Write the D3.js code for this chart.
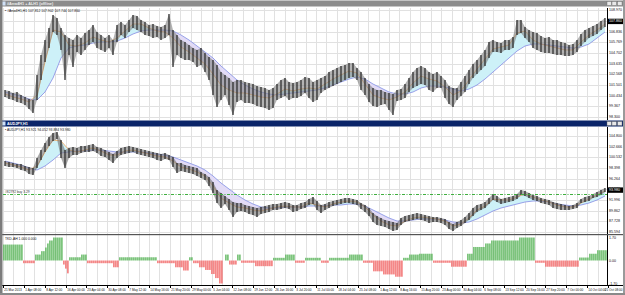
<!DOCTYPE html>
<html>
<head>
<meta charset="utf-8">
<script src="https://cdn.jsdelivr.net/npm/d3@7"></script>
<style>
body { margin: 0; background: #fff; }
svg { display: block; font-family: "Liberation Sans", Arial, sans-serif; }
</style>
</head>
<body>
<div class="chart-container"></div>
<script>
const width = 625;
const height = 295;

// time scale labels (one every ~20.9px)
const dateLabels = ["21 Mar 2013","1 Apr 08:00","8 Apr 12:00","16 Apr 00:00","23 Apr 04:00","30 Apr 08:00",
  "7 May 12:00","14 May 16:00","21 May 20:00","29 May 00:00","5 Jun 04:00","12 Jun 08:00","19 Jun 12:00",
  "26 Jun 16:00","3 Jul 20:00","11 Jul 00:00","18 Jul 04:00","25 Jul 08:00","1 Aug 12:00","8 Aug 16:00",
  "15 Aug 20:00","23 Aug 00:00","30 Aug 04:00","6 Sep 08:00","13 Sep 12:00","20 Sep 16:00","27 Sep 20:00",
  "7 Oct 00:00","14 Oct 04:00","21 Oct 08:00"];

// top window (#Anw4H1)
const topTicks = [108.970,107.903,106.836,105.769,104.702,103.635,102.568,101.501,100.434,99.367,98.300];
const topHigh = [101.0,100.9,100.7,100.8,100.5,100.3,100.1,100.0,102.5,104.5,
  106.0,107.2,108.5,108.2,107.2,106.5,106.2,106.0,106.5,106.2,
  106.7,107.0,107.5,106.8,106.5,106.2,106.5,106.0,107.5,107.8,
  107.5,108.0,108.5,108.4,108.0,107.8,107.5,107.6,107.4,107.3,
  107.5,108.6,107.0,106.5,106.0,105.8,105.5,105.2,105.0,105.2,
  104.7,104.3,104.0,103.5,102.8,102.5,102.2,101.8,102.0,102.0,
  101.8,101.7,101.6,101.4,101.3,101.2,101.0,101.2,101.6,102.0,
  102.2,101.8,101.7,101.8,102.0,102.3,102.2,101.8,102.0,102.2,
  102.4,102.8,103.0,103.2,103.4,103.5,103.7,103.7,103.2,102.8,
  102.2,101.6,101.2,101.0,101.0,100.8,100.7,100.6,101.0,101.1,
  101.6,102.2,102.8,103.2,103.4,103.2,102.8,102.6,102.8,102.4,
  102.0,101.4,101.2,101.2,101.8,102.4,103.0,103.6,104.0,104.5,
  105.0,105.8,106.0,105.8,105.7,106.0,106.0,106.3,108.0,108.0,
  107.3,107.0,106.8,106.7,106.4,106.2,106.3,106.0,106.0,105.8,
  105.7,105.5,105.6,106.0,106.6,107.0,107.2,107.4,107.6,107.9,
  108.2];
const topLow = [100.3,100.1,100.0,99.8,99.7,99.5,99.1,98.7,100.0,102.0,
  103.8,105.2,106.8,106.5,105.0,102.0,104.5,103.3,104.8,104.5,
  105.0,105.5,105.8,105.2,105.0,104.8,105.2,104.5,105.8,106.5,
  106.2,106.8,107.2,107.0,106.8,106.5,106.4,106.2,106.3,106.0,
  106.2,106.5,103.3,104.5,104.2,104.0,104.0,103.8,103.3,103.5,
  102.8,102.0,100.5,99.3,100.0,100.5,99.5,98.5,99.8,100.0,
  99.7,99.7,99.6,99.4,99.3,99.2,99.0,99.2,100.0,100.2,
  100.4,100.0,100.2,100.2,100.4,100.7,100.2,99.8,100.0,100.7,
  101.0,101.2,101.4,101.6,101.8,102.0,102.2,102.3,102.0,101.0,
  100.5,99.8,99.4,99.3,99.5,99.6,99.0,98.5,99.9,100.0,
  100.2,100.8,101.2,101.4,101.6,101.5,101.0,100.8,101.2,101.2,
  100.2,99.6,99.3,100.0,100.4,100.8,101.6,102.2,102.6,103.0,
  103.4,104.2,104.8,104.8,104.7,105.0,105.0,105.2,106.5,106.7,
  106.2,105.8,105.2,105.0,104.8,104.7,104.7,104.6,104.5,104.5,
  104.4,104.4,104.5,104.8,105.4,105.8,106.2,106.4,106.6,107.0,
  107.3];
const topFast = [100.6,100.3,100.1,99.8,100.5,103.8,107.0,106.8,105.5,105.4,
  105.7,106.3,106.0,105.8,106.2,106.9,107.6,107.6,107.2,106.9,
  106.8,106.2,105.3,104.8,104.2,103.6,102.6,101.5,101.0,100.7,
  100.7,100.5,100.3,100.2,100.6,101.1,100.9,101.1,101.2,101.1,
  101.6,102.1,102.5,102.9,102.7,101.6,100.5,100.2,100.0,100.3,
  100.8,101.7,102.4,102.1,101.9,101.3,100.5,100.9,102.0,103.1,
  104.1,105.1,105.3,105.5,106.7,106.9,106.0,105.6,105.4,105.2,
  105.0,105.0,105.8,106.5,107.0,107.6];
const topSlow = [100.8,100.6,100.4,100.1,100.0,100.8,102.2,104.2,105.2,105.4,
  105.5,105.7,105.8,105.8,105.9,106.2,106.6,106.9,107.0,107.0,
  107.0,106.9,106.5,106.0,105.4,104.8,104.2,103.4,102.7,102.0,
  101.5,101.1,100.8,100.6,100.5,100.6,100.7,100.8,100.9,101.0,
  101.2,101.5,101.8,102.1,102.3,102.1,101.6,101.2,100.8,100.6,
  100.6,100.8,101.2,101.4,101.4,101.3,101.1,100.9,101.1,101.5,
  102.1,102.8,103.5,104.2,104.9,105.4,105.6,105.6,105.5,105.4,
  105.3,105.2,105.3,105.6,106.2,106.8];

// AUDJPY,H1 window
const midTicks = [104.800,102.666,100.532,98.398,96.264,94.130,91.996,89.862,87.728,85.594];
const midHigh = [99.8,99.6,99.4,99.2,99.2,98.8,98.6,98.4,100.4,102.0,
  103.4,104.6,105.4,105.6,104.0,102.0,102.4,102.6,102.4,102.8,
  102.8,103.0,103.2,102.6,102.4,102.0,101.6,101.2,101.8,102.4,
  102.6,102.8,102.6,102.4,102.2,102.0,101.8,101.6,101.4,101.2,
  101.4,101.0,100.6,99.4,99.4,99.0,98.8,98.6,98.4,97.6,
  97.2,96.6,95.6,94.0,93.4,92.8,92.2,91.6,91.4,91.4,
  91.0,90.8,90.6,90.4,90.6,90.8,91.0,91.2,91.2,91.4,
  91.6,91.4,91.0,91.0,91.4,91.6,92.2,92.6,91.8,91.0,
  91.2,91.6,91.8,92.0,92.2,92.4,92.4,92.2,92.0,91.4,
  91.0,90.4,89.4,88.8,88.4,88.0,87.8,87.6,87.4,88.4,
  88.8,89.0,89.2,89.4,89.2,89.0,88.8,88.6,88.6,88.4,
  88.2,87.6,87.2,87.6,88.0,88.6,89.4,90.4,91.0,91.2,
  91.6,92.4,93.2,92.8,92.2,92.4,92.6,92.8,93.2,94.0,
  93.8,93.4,93.0,92.8,92.4,92.2,92.0,91.6,91.4,91.2,
  91.0,90.8,91.0,91.4,92.2,92.6,92.8,93.2,93.6,94.0,
  94.4];
const midLow = [98.8,98.6,98.6,98.4,98.0,97.8,97.2,97.0,98.4,100.0,
  101.6,102.8,103.8,104.2,100.4,98.4,100.4,101.0,101.0,101.4,
  101.6,101.6,101.8,101.4,100.8,100.6,100.0,99.4,100.4,101.0,
  101.2,101.4,101.6,101.2,101.0,100.8,100.6,100.4,100.0,99.8,
  100.2,100.0,98.6,97.4,97.8,97.6,97.4,97.2,96.8,96.4,
  96.0,94.8,93.4,91.4,90.4,91.2,90.0,88.6,89.6,89.8,
  89.6,89.2,89.0,88.6,89.2,89.4,89.6,90.0,90.0,90.2,
  90.4,90.2,89.6,89.8,90.2,90.4,91.0,91.2,90.0,89.4,
  90.0,90.4,90.8,91.0,91.2,91.4,91.4,91.2,91.0,90.2,
  89.6,88.8,87.6,87.0,86.8,86.6,86.2,85.8,86.0,87.0,
  87.6,87.8,88.0,88.2,88.0,87.8,87.4,87.6,87.6,87.4,
  87.0,86.2,85.8,86.4,86.8,87.4,88.0,88.8,89.6,90.0,
  90.4,91.2,92.0,91.6,91.2,91.4,91.6,91.8,92.2,93.0,
  92.8,92.4,92.0,91.8,91.4,91.2,91.0,90.4,90.2,90.0,
  90.0,90.0,90.2,90.4,91.4,91.6,91.8,92.4,92.6,93.0,
  93.6];
const midFast = [99.4,99.0,98.6,98.0,98.8,101.6,104.0,103.8,102.0,101.6,
  102.0,102.4,101.8,101.0,101.0,101.8,102.0,101.6,101.2,100.8,
  100.6,99.8,98.6,98.2,97.6,96.8,94.8,92.4,91.4,90.6,
  90.4,90.0,89.8,90.2,90.6,90.8,90.6,90.6,91.4,91.0,
  90.6,91.2,91.6,91.8,91.6,90.6,89.0,87.8,87.0,86.8,
  87.8,88.4,88.6,88.4,88.2,87.8,86.8,87.2,88.4,90.0,
  90.8,92.2,92.0,92.0,92.6,93.2,92.6,92.0,91.6,91.0,
  90.6,90.6,91.4,92.2,93.0,93.8];
const midSlow = [99.8,99.4,99.0,98.4,98.0,98.8,100.0,101.4,101.6,101.8,
  101.8,102.0,102.0,101.8,101.6,101.6,101.6,101.6,101.4,101.2,
  101.0,100.6,100.0,99.4,98.8,98.0,96.8,95.4,94.2,93.0,
  92.0,91.2,90.6,90.4,90.4,90.6,90.6,90.6,90.8,90.8,
  90.8,91.0,91.0,91.2,91.2,90.8,90.0,89.2,88.4,87.8,
  87.8,88.0,88.2,88.2,88.2,88.0,87.6,87.4,87.6,88.2,
  89.0,89.8,90.4,90.8,91.2,91.6,91.8,91.8,91.6,91.2,
  91.0,90.8,91.0,91.4,92.0,92.8];
const orderPrice = 93.3;

// TKD-AH histogram, runs of equal value (in bar units)
const histFrom = [0,10,16,19,21,22,23,25,30,31,32,33,39,42,55,58,77,86,90,93,95,98,101,104,106,108,
  111,113,117,119,126,135,141,146,151,159,163,173,180,185,190,196,200,203,208,215,224,232,235,241,244,258,
  266,271,288,293,297];
const histTo = [10,16,19,21,22,23,25,30,31,32,33,39,42,55,58,77,86,90,93,95,98,101,104,106,108,110,
  113,117,119,126,135,141,146,151,159,163,173,180,185,190,196,200,203,208,215,224,232,235,241,244,258,266,
  271,288,293,297,302];
const histVal = [1.18,-0.2,0.44,0.69,0.96,1.26,1.48,1.7,-0.3,-0.6,-0.95,0.24,0.44,-0.2,-0.5,0.24,-0.2,-0.5,-0.74,0.24,
  -0.2,-0.5,-0.7,-1.0,-1.3,-1.7,0.44,-0.3,0.44,-0.17,-0.42,0.2,0.44,-0.17,0.2,-0.17,0.2,0.44,-0.17,-0.8,
  -1.03,-1.2,0.2,0.44,0.5,-0.17,-0.46,0.5,1.0,1.26,1.48,1.7,-0.17,-0.46,0.22,0.5,0.76];
const histTicks = [1.7, 0, -1.7];

const plotLeft = 3;
const plotRight = 607;
const gridColor = "#e1e1e1";

const svg = d3.select('.chart-container').append('svg')
    .attr('width', width)
    .attr('height', height);

svg.append('rect').attr('width', width).attr('height', height).attr('fill', '#fff');
const defs = svg.append('defs');

const x = d3.scaleLinear().domain([0, 302]).range([plotLeft, plotRight]);
const labelX = d3.scaleLinear().domain([0, dateLabels.length - 1]).range([3, 608]);
const barX = i => x(2 * i + 1);
const maX = j => x(4 * j + 1);

function addClip(id, top, bottom) {
    defs.append('clipPath').attr('id', id)
        .append('rect')
        .attr('x', plotLeft).attr('y', top)
        .attr('width', plotRight - plotLeft).attr('height', bottom - top);
}

function drawGrid(top, bottom, ticks, y) {
    const g = svg.append('g');
    d3.range(0, 59).forEach(k => {
        const gx = Math.round(labelX(k / 2)) + 0.5;
        if (gx > plotRight) return;
        g.append('line').attr('x1', gx).attr('x2', gx).attr('y1', top).attr('y2', bottom)
            .attr('stroke', gridColor).attr('stroke-width', 1);
    });
    ticks.forEach(v => {
        const gy = Math.round(y(v)) + 0.5;
        g.append('line').attr('x1', plotLeft).attr('x2', plotRight).attr('y1', gy).attr('y2', gy)
            .attr('stroke', gridColor).attr('stroke-width', 1);
    });
}

function drawPricePane(id, top, bottom, y, ticks, high, low, fast, slow, boxValue, legend, bandFill) {
    addClip(id + '-clip', top, bottom);
    drawGrid(top, bottom, ticks, y);

    const g = svg.append('g').attr('clip-path', 'url(#' + id + '-clip)');
    const idx = d3.range(fast.length);

    // cloud between the two averages
    defs.append('clipPath').attr('id', id + '-up').append('path')
        .attr('d', d3.area().x(j => maX(j)).y0(top).y1(j => y(slow[j]))(idx));
    defs.append('clipPath').attr('id', id + '-dn').append('path')
        .attr('d', d3.area().x(j => maX(j)).y0(j => y(slow[j])).y1(bottom)(idx));
    const band = d3.area().x(j => maX(j)).y0(j => y(slow[j])).y1(j => y(fast[j]));
    g.append('path').attr('d', band(idx)).attr('fill', '#cdf1f8').attr('clip-path', 'url(#' + id + '-up)');
    g.append('path').attr('d', band(idx)).attr('fill', '#e2dbf6').attr('clip-path', 'url(#' + id + '-dn)');

    g.append('path').attr('d', d3.line().x(j => maX(j)).y(j => y(slow[j]))(idx))
        .attr('fill', 'none').attr('stroke', '#8d97e6').attr('stroke-width', 0.9);
    g.append('path').attr('d', d3.line().x(j => maX(j)).y(j => y(fast[j]))(idx))
        .attr('fill', 'none').attr('stroke', '#f0a456').attr('stroke-width', 0.8);

    // price range ribbon behind the bars, then the high-low bars
    const bi = d3.range(high.length);
    g.append('path')
        .attr('d', d3.area().x(i => barX(i)).y0(i => y(low[i])).y1(i => y(high[i]))(bi))
        .attr('fill', bandFill).attr('opacity', 0.6);
    g.selectAll('.bar').data(high).enter().append('line')
        .attr('x1', (d, i) => barX(i)).attr('x2', (d, i) => barX(i))
        .attr('y1', d => y(d)).attr('y2', (d, i) => y(low[i]))
        .attr('stroke', '#262626').attr('stroke-width', 1.2);

    // price scale
    ticks.forEach(v => {
        svg.append('text').attr('x', 609).attr('y', y(v)).attr('dominant-baseline', 'central')
            .attr('font-size', 3.6).attr('fill', '#111').text(v.toFixed(3));
    });
    const by = y(boxValue);
    svg.append('rect').attr('x', 608).attr('y', by - 2.7).attr('width', 15).attr('height', 5.4).attr('fill', '#000');
    svg.append('text').attr('x', 609).attr('y', by).attr('dominant-baseline', 'central')
        .attr('font-size', 3.6).attr('fill', '#fff').text(boxValue.toFixed(3));

    svg.append('text').attr('x', 5).attr('y', top + 4).attr('font-size', 3.4).attr('fill', '#111').text(legend);

    svg.append('line').attr('x1', plotRight + 0.5).attr('x2', plotRight + 0.5).attr('y1', top).attr('y2', bottom)
        .attr('stroke', '#000').attr('stroke-width', 1);
}

// ---- top window
const yTop = d3.scaleLinear().domain([109.2, 98.0]).range([8, 120]);
drawPricePane('top', 8, 120, yTop, topTicks, topHigh, topLow, topFast, topSlow, 107.860,
    '\u2022 #Anw4H1,H1 107.812 107.902 107.744 107.860', '#808080');

// ---- middle window
const yMid = d3.scaleLinear().domain([106.6, 85.2]).range([127, 234]);
drawPricePane('mid', 127, 234, yMid, midTicks, midHigh, midLow, midFast, midSlow, 93.980,
    '\u2022 AUDJPY,H1 93.921 94.052 93.884 93.980', '#707070');

const oy = Math.round(yMid(orderPrice)) + 0.5;
svg.append('line').attr('x1', plotLeft).attr('x2', plotRight).attr('y1', oy).attr('y2', oy)
    .attr('stroke', '#3fae3f').attr('stroke-width', 1).attr('stroke-dasharray', '3,1.5,1,1.5');
svg.append('text').attr('x', 5).attr('y', oy - 1.2).attr('font-size', 3.3).attr('fill', '#333').text('#82792 buy 3.29');

// ---- histogram pane
const yHist = d3.scaleLinear().domain([-1.7, 1.7]).range([283.5, 237.5]);
addClip('hist-clip', 235, 285);
drawGrid(235, 285, [], yHist);
const histBars = [];
histVal.forEach((v, r) => {
    d3.range(histFrom[r], histTo[r]).forEach(u => histBars.push({ u: u, v: v }));
});
svg.append('g').attr('clip-path', 'url(#hist-clip)')
    .selectAll('rect').data(histBars).enter().append('rect')
    .attr('x', d => x(d.u) + 0.2)
    .attr('y', d => Math.min(yHist(0), yHist(d.v)))
    .attr('width', 1.4)
    .attr('height', d => Math.abs(yHist(d.v) - yHist(0)))
    .attr('fill', d => d.v >= 0 ? '#5db65d' : '#f26a6a');
histTicks.forEach(v => {
    svg.append('text').attr('x', 609).attr('y', yHist(v)).attr('dominant-baseline', 'central')
        .attr('font-size', 3.6).attr('fill', '#111').text(v.toFixed(2));
});
svg.append('text').attr('x', 5).attr('y', 239.5).attr('font-size', 3.4).attr('fill', '#111').text('TKD-AH 1.000 0.000');
svg.append('line').attr('x1', plotRight + 0.5).attr('x2', plotRight + 0.5).attr('y1', 235).attr('y2', 285)
    .attr('stroke', '#000').attr('stroke-width', 1);

// pane separators and time scale
svg.append('rect').attr('x', 0).attr('y', 234).attr('width', width).attr('height', 1.2).attr('fill', '#555');
svg.append('line').attr('x1', 0).attr('x2', width).attr('y1', 285.5).attr('y2', 285.5).attr('stroke', '#000');
dateLabels.forEach((t, k) => {
    const lx = Math.round(labelX(k)) + 0.5;
    const last = k === dateLabels.length - 1;
    svg.append('line').attr('x1', lx).attr('x2', lx).attr('y1', 285.5).attr('y2', 288).attr('stroke', '#000');
    svg.append('text').attr('x', last ? 622.5 : lx + 0.8).attr('y', 291.2)
        .attr('text-anchor', last ? 'end' : 'start')
        .attr('font-size', 3.1).attr('fill', '#111').text(t);
});

// window chrome
function titleBar(yy, fill, textFill, label) {
    svg.append('rect').attr('x', 0).attr('y', yy).attr('width', width).attr('height', 6).attr('fill', fill);
    svg.append('rect').attr('x', 1.5).attr('y', yy + 1).attr('width', 4).attr('height', 4).attr('fill', '#cfe0f5');
    svg.append('text').attr('x', 7).attr('y', yy + 4.4).attr('font-size', 3.8).attr('font-weight', 'bold')
        .attr('fill', textFill).text(label);
    [607, 612, 617.5].forEach(bx => {
        svg.append('rect').attr('x', bx).attr('y', yy + 1).attr('width', 4.5).attr('height', 4)
            .attr('fill', '#e8e8e8').attr('stroke', '#666').attr('stroke-width', 0.4);
    });
}
titleBar(0.5, '#8c8c8c', '#eeeeee', '#Anw4H1 + ALH1 (offline)');
titleBar(120.5, '#0b2569', '#ffffff', 'AUDJPY,H1');
svg.append('rect').attr('x', 0).attr('y', 0).attr('width', 2.5).attr('height', height).attr('fill', '#7c7c7c');
svg.append('rect').attr('x', 623).attr('y', 0).attr('width', 2).attr('height', height).attr('fill', '#9a9a9a');
svg.append('rect').attr('x', 0).attr('y', 293).attr('width', width).attr('height', 2).attr('fill', '#8a8a8a');
</script>
</body>
</html>
